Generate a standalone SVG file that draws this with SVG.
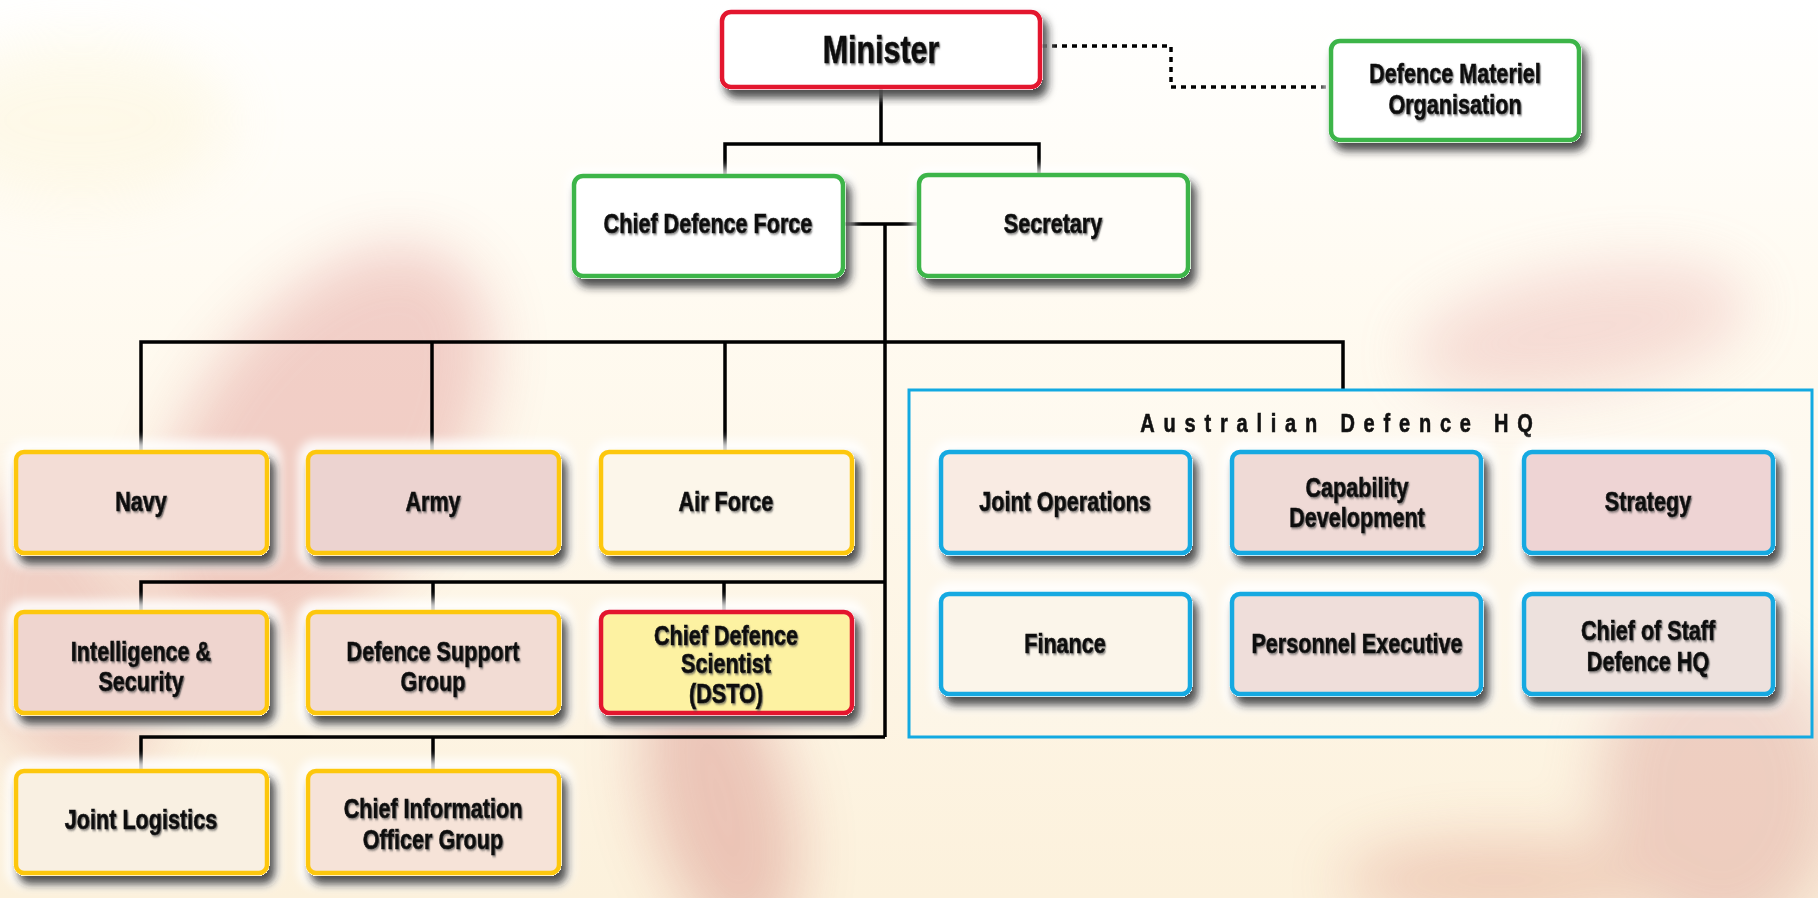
<svg xmlns="http://www.w3.org/2000/svg" width="1818" height="898" viewBox="0 0 1818 898">
<defs>
<linearGradient id="bg" x1="0" y1="0" x2="0" y2="1">
<stop offset="0" stop-color="#ffffff"/>
<stop offset="0.3" stop-color="#fffbf2"/>
<stop offset="1" stop-color="#fcf1dc"/>
</linearGradient>
<filter id="blur" x="-50%" y="-50%" width="200%" height="200%"><feGaussianBlur stdDeviation="30"/></filter>
<filter id="glow" x="-20%" y="-20%" width="140%" height="140%"><feGaussianBlur stdDeviation="5"/></filter>
<filter id="sh" x="-10%" y="-10%" width="125%" height="135%">
<feComponentTransfer in="SourceAlpha" result="a"><feFuncA type="linear" slope="20"/></feComponentTransfer>
<feOffset in="a" dx="5" dy="8" result="o"/>
<feGaussianBlur in="o" stdDeviation="4" result="b"/>
<feComposite in="b" in2="a" operator="out" result="c"/>
<feFlood flood-color="#222" flood-opacity="0.8"/>
<feComposite in2="c" operator="in" result="s"/>
<feMerge><feMergeNode in="s"/><feMergeNode in="SourceGraphic"/></feMerge>
</filter>
<filter id="ts" x="-5%" y="-20%" width="110%" height="150%"><feDropShadow dx="1.5" dy="1.5" stdDeviation="0.8" flood-color="#444" flood-opacity="0.7"/></filter>
<style>
.box{stroke-width:4.5}
.r{stroke:#e3132d}
.g{stroke:#3db54a}
.y{stroke:#fdc70f}
.b{stroke:#12a9e1}
.wf{fill:#ffffff}
.halo{fill:#ffffff;opacity:0.85}
.t{font-family:"Liberation Sans",Arial,sans-serif;font-weight:bold;font-size:27px;fill:#111;stroke:#111;stroke-width:0.6;text-anchor:middle;transform-box:fill-box;transform-origin:center;transform:scaleX(0.8)}
.big{font-size:38px}
.title{font-size:25px;letter-spacing:11px}
.ln{stroke:#000;stroke-width:3.5;fill:none}
.dot{stroke:#000;stroke-width:3.5;fill:none;stroke-dasharray:5 5}
</style>
</defs>
<rect width="1818" height="898" fill="url(#bg)"/>
<g id="background" filter="url(#blur)" opacity="0.28">
<ellipse cx="320" cy="450" rx="130" ry="230" transform="rotate(35 320 450)" fill="#d06060"/>
<ellipse cx="60" cy="640" rx="90" ry="150" transform="rotate(-20 60 640)" fill="#d07070"/>
<ellipse cx="720" cy="800" rx="70" ry="150" transform="rotate(-15 720 800)" fill="#c05050"/>
<ellipse cx="1580" cy="330" rx="170" ry="60" transform="rotate(-10 1580 330)" fill="#e09090"/>
<ellipse cx="1720" cy="790" rx="120" ry="150" fill="#c87070"/>
<ellipse cx="1500" cy="880" rx="160" ry="40" fill="#d07060"/>
<ellipse cx="80" cy="120" rx="150" ry="80" fill="#fbf0c0"/>
</g>
<g id="connectors">
<polyline class="ln" points="881,87 881,144"/>
<polyline class="ln" points="725,176 725,144 1039,144 1039,176"/>
<polyline class="ln" points="843,224 919,224"/>
<polyline class="ln" points="885,224 885,737"/>
<polyline class="ln" points="141,452 141,342 1343,342 1343,390"/>
<polyline class="ln" points="432,342 432,452"/>
<polyline class="ln" points="725,342 725,452"/>
<polyline class="ln" points="141,612 141,582 885,582"/>
<polyline class="ln" points="433,582 433,612"/>
<polyline class="ln" points="724,582 724,612"/>
<polyline class="ln" points="141,771 141,737 885,737"/>
<polyline class="ln" points="433,737 433,771"/>
<polyline class="dot" points="1042,46 1171,46 1171,87 1329,87"/>
</g>
<g id="adhq">
<rect x="909" y="390" width="903" height="347" fill="#ffffff" fill-opacity="0.2" stroke="#12a9e1" stroke-width="3"/>
<text class="t title" x="1341" y="432">Australian Defence HQ</text>
</g>
<g id="minister">
<rect class="halo" x="714" y="4" width="336" height="93" rx="14" filter="url(#glow)"/>
<rect class="box r wf" x="722" y="12" width="318" height="75" rx="9" filter="url(#sh)"/>
<text class="t big" x="881" y="63" filter="url(#ts)">Minister</text>
</g>
<g id="dmo">
<rect class="halo" x="1323" y="33" width="266" height="117" rx="14" filter="url(#glow)"/>
<rect class="box g wf" x="1331" y="41" width="248" height="99" rx="9" filter="url(#sh)"/>
<text class="t" x="1455" y="83" filter="url(#ts)">Defence Materiel</text>
<text class="t" x="1455" y="114" filter="url(#ts)">Organisation</text>
</g>
<g id="cdf">
<rect class="halo" x="566" y="168" width="287" height="118" rx="14" filter="url(#glow)"/>
<rect class="box g wf" x="574" y="176" width="269" height="100" rx="9" filter="url(#sh)"/>
<text class="t" x="708" y="233" filter="url(#ts)">Chief Defence Force</text>
</g>
<g id="secretary">
<rect class="halo" x="911" y="167" width="287" height="119" rx="14" filter="url(#glow)"/>
<rect class="box g" x="919" y="175" width="269" height="101" rx="9" fill="#fffdf9" filter="url(#sh)"/>
<text class="t" x="1053" y="233" filter="url(#ts)">Secretary</text>
</g>
<g id="navy">
<rect class="halo" x="6" y="440" width="275" height="128" rx="18" filter="url(#glow)"/>
<rect class="box y" x="16" y="452" width="251" height="101" rx="8" fill="#f3ddd6" filter="url(#sh)"/>
<text class="t" x="141" y="511" filter="url(#ts)">Navy</text>
</g>
<g id="army">
<rect class="halo" x="298" y="440" width="275" height="128" rx="18" filter="url(#glow)"/>
<rect class="box y" x="308" y="452" width="251" height="101" rx="8" fill="#ecd3d0" filter="url(#sh)"/>
<text class="t" x="433" y="511" filter="url(#ts)">Army</text>
</g>
<g id="airforce">
<rect class="halo" x="591" y="440" width="275" height="128" rx="18" filter="url(#glow)"/>
<rect class="box y" x="601" y="452" width="251" height="101" rx="8" fill="#fcf6ea" filter="url(#sh)"/>
<text class="t" x="726" y="511" filter="url(#ts)">Air Force</text>
</g>
<g id="intel">
<rect class="halo" x="6" y="600" width="275" height="128" rx="18" filter="url(#glow)"/>
<rect class="box y" x="16" y="612" width="251" height="101" rx="8" fill="#efd5cf" filter="url(#sh)"/>
<text class="t" x="141" y="661" filter="url(#ts)">Intelligence &amp;</text>
<text class="t" x="141" y="691" filter="url(#ts)">Security</text>
</g>
<g id="dsg">
<rect class="halo" x="298" y="600" width="275" height="128" rx="18" filter="url(#glow)"/>
<rect class="box y" x="308" y="612" width="251" height="101" rx="8" fill="#f2dcd4" filter="url(#sh)"/>
<text class="t" x="433" y="661" filter="url(#ts)">Defence Support</text>
<text class="t" x="433" y="691" filter="url(#ts)">Group</text>
</g>
<g id="cds">
<rect class="halo" x="591" y="600" width="275" height="128" rx="18" filter="url(#glow)"/>
<rect class="box r" x="601" y="612" width="251" height="101" rx="8" fill="#fdf2a2" filter="url(#sh)"/>
<text class="t" x="726" y="645" filter="url(#ts)">Chief Defence</text>
<text class="t" x="726" y="673" filter="url(#ts)">Scientist</text>
<text class="t" x="726" y="703" filter="url(#ts)">(DSTO)</text>
</g>
<g id="jlog">
<rect class="halo" x="6" y="759" width="275" height="129" rx="18" filter="url(#glow)"/>
<rect class="box y" x="16" y="771" width="251" height="102" rx="8" fill="#f9f0e2" filter="url(#sh)"/>
<text class="t" x="141" y="829" filter="url(#ts)">Joint Logistics</text>
</g>
<g id="cio">
<rect class="halo" x="298" y="759" width="275" height="129" rx="18" filter="url(#glow)"/>
<rect class="box y" x="308" y="771" width="251" height="102" rx="8" fill="#f6e3d8" filter="url(#sh)"/>
<text class="t" x="433" y="818" filter="url(#ts)">Chief Information</text>
<text class="t" x="433" y="849" filter="url(#ts)">Officer Group</text>
</g>
<g id="jops">
<rect class="halo" x="931" y="440" width="273" height="128" rx="18" filter="url(#glow)"/>
<rect class="box b" x="941" y="452" width="249" height="101" rx="8" fill="#f9ebe3" filter="url(#sh)"/>
<text class="t" x="1065" y="511" filter="url(#ts)">Joint Operations</text>
</g>
<g id="capdev">
<rect class="halo" x="1222" y="440" width="273" height="128" rx="18" filter="url(#glow)"/>
<rect class="box b" x="1232" y="452" width="249" height="101" rx="8" fill="#efdad6" filter="url(#sh)"/>
<text class="t" x="1357" y="497" filter="url(#ts)">Capability</text>
<text class="t" x="1357" y="527" filter="url(#ts)">Development</text>
</g>
<g id="strategy">
<rect class="halo" x="1514" y="440" width="273" height="128" rx="18" filter="url(#glow)"/>
<rect class="box b" x="1524" y="452" width="249" height="101" rx="8" fill="#eed4d4" filter="url(#sh)"/>
<text class="t" x="1648" y="511" filter="url(#ts)">Strategy</text>
</g>
<g id="finance">
<rect class="halo" x="931" y="582" width="273" height="128" rx="18" filter="url(#glow)"/>
<rect class="box b" x="941" y="594" width="249" height="100" rx="8" fill="#fbf5ea" filter="url(#sh)"/>
<text class="t" x="1065" y="653" filter="url(#ts)">Finance</text>
</g>
<g id="persexec">
<rect class="halo" x="1222" y="582" width="273" height="128" rx="18" filter="url(#glow)"/>
<rect class="box b" x="1232" y="594" width="249" height="100" rx="8" fill="#efdeda" filter="url(#sh)"/>
<text class="t" x="1357" y="653" filter="url(#ts)">Personnel Executive</text>
</g>
<g id="cos">
<rect class="halo" x="1514" y="582" width="273" height="128" rx="18" filter="url(#glow)"/>
<rect class="box b" x="1524" y="594" width="249" height="100" rx="8" fill="#ede1dd" filter="url(#sh)"/>
<text class="t" x="1648" y="640" filter="url(#ts)">Chief of Staff</text>
<text class="t" x="1648" y="671" filter="url(#ts)">Defence HQ</text>
</g>
</svg>
